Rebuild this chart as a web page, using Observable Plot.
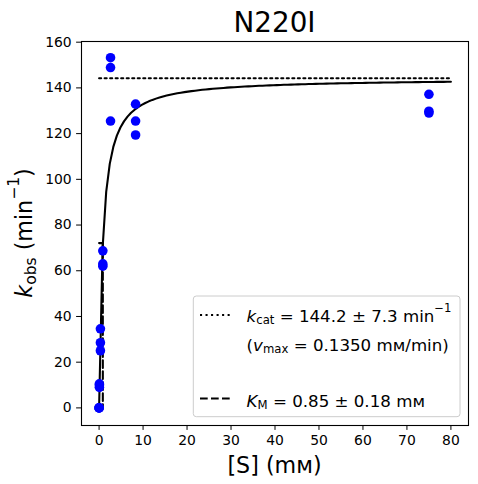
<!DOCTYPE html>
<html><head><meta charset="utf-8">
<script src="https://cdn.jsdelivr.net/npm/d3@7"></script>
<script src="https://cdn.jsdelivr.net/npm/@observablehq/plot@0.6"></script>
<style>body{margin:0;background:#fff} svg{display:block}</style>
</head><body><div id="chart"></div>
<script>
// ---- data ----
const title = "N220I";
const concS = [0, 0, 0, 0.07, 0.07, 0.07, 0.3, 0.3, 0.3, 0.85, 0.85, 0.85, 2.6, 2.6, 2.6, 8.3, 8.3, 8.3, 75, 75, 75];
const kObs  = [0, 0, 0, 9, 10, 10.5, 25, 28.5, 34.6, 62, 63, 68.7, 125.5, 148.9, 153.2, 119.4, 125.5, 132.9, 129, 129.8, 137.2];
const kcat = 144.2, kcatErr = 7.3, vmax = 0.1350, KM = 0.85, KMErr = 0.18;
const sMax = 80;
const xTicks = [0, 10, 20, 30, 40, 50, 60, 70, 80];
const yTicks = [0, 20, 40, 60, 80, 100, 120, 140, 160];

const points = concS.map((s, i) => ({s, k: kObs[i]}));
// Michaelis–Menten fit curve from the fitted parameters
const fitS = d3.range(100).map(i => i * sMax / 99);
const fit = fitS.map(s => ({s, k: kcat * s / (KM + s)}));
const kcatLine = [{s: 0, k: kcat}, {s: sMax, k: kcat}];
const kmLine = [{s: 0, k: kcat / 2}, {s: KM, k: kcat / 2}, {s: KM, k: 0}];

const W = 478, H = 484;
const chart = Plot.plot({
  width: W, height: H,
  marginLeft: 81, marginRight: 10, marginTop: 41, marginBottom: 59,
  style: {fontFamily: "DejaVu Sans", fontSize: "13.9px", color: "black", background: "white"},
  x: {domain: [-4, 84], ticks: xTicks, tickSize: 4.9, tickPadding: 4.5, label: null},
  y: {domain: [-7.7, 160.3], ticks: yTicks, tickSize: 4.9, tickPadding: 4.9, label: null},
  marks: [
    Plot.line(kcatLine, {x: "s", y: "k", stroke: "black", strokeWidth: 2.08, strokeDasharray: "2.08 3.44"}),
    Plot.line(kmLine, {x: "s", y: "k", stroke: "black", strokeWidth: 2.08, strokeDasharray: "7.7 3.3"}),
    Plot.line(fit, {x: "s", y: "k", stroke: "black", strokeWidth: 2.08}),
    Plot.dot(points, {x: "s", y: "k", r: 4.8, fill: "#0000ff", stroke: "none"}),
    Plot.frame({stroke: "black", strokeWidth: 1.1})
  ]
});
document.getElementById("chart").appendChild(chart);

const svg = d3.select(chart);
svg.selectAll("g[aria-label='x-axis tick label'] text, g[aria-label='y-axis tick label'] text").attr("fill", "black");

function richText(parent, x, y, parts, size, anchor, transform) {
  const t = parent.append("text").attr("x", x).attr("y", y)
    .attr("font-family", "DejaVu Sans").attr("font-size", size)
    .attr("fill", "black").attr("text-anchor", anchor || "start");
  if (transform) t.attr("transform", transform);
  let pending = 0;
  parts.forEach(p => {
    const ts = t.append("tspan").text(p.t);
    let dy = pending; pending = 0;
    if (p.it) ts.attr("font-style", "italic");
    if (p.sub) { ts.attr("font-size", size * 0.7); dy += size * 0.16; pending = -size * 0.16; }
    if (p.sup) { ts.attr("font-size", size * 0.7); dy -= size * 0.58; pending = size * 0.58; }
    if (dy) ts.attr("dy", dy);
  });
  return t;
}

const cx = (81 + 468) / 2;
// title
svg.append("text").attr("x", cx).attr("y", 32).attr("text-anchor", "middle")
  .attr("font-family", "DejaVu Sans").attr("font-size", 27.8).attr("fill", "black").text(title);
// x label
richText(svg, cx, 473, [{t: "[S] (m\u1D0D)"}], 22.2, "middle");
// y label
richText(svg, 0, 0, [{t: "k", it: true}, {t: "obs", sub: true}, {t: " (min"}, {t: "\u22121", sup: true}, {t: ")"}], 22.2, "middle",
  `translate(32,233) rotate(-90)`);

// legend
const lg = svg.append("g");
const fs = 16.67;
lg.append("rect").attr("x", 193.3).attr("y", 296).attr("width", 266.7).attr("height", 120.7)
  .attr("rx", 3).attr("fill", "white").attr("fill-opacity", 0.8).attr("stroke", "#cccccc").attr("stroke-width", 1);
lg.append("line").attr("x1", 200).attr("x2", 233).attr("y1", 315).attr("y2", 315)
  .attr("stroke", "black").attr("stroke-width", 2.08).attr("stroke-dasharray", "2.08 3.44");
lg.append("line").attr("x1", 200).attr("x2", 233).attr("y1", 398.5).attr("y2", 398.5)
  .attr("stroke", "black").attr("stroke-width", 2.08).attr("stroke-dasharray", "7.7 3.3");
richText(lg, 246.6, 321.7, [{t: "k", it: true}, {t: "cat", sub: true}, {t: ` = ${kcat.toFixed(1)} \u00B1 ${kcatErr.toFixed(1)} min`}, {t: "\u22121", sup: true}], fs);
richText(lg, 246.6, 350.5, [{t: "("}, {t: "v", it: true}, {t: "max", sub: true}, {t: ` = ${vmax.toFixed(4)} m\u1D0D/min)`}], fs);
richText(lg, 246.6, 406.5, [{t: "K", it: true}, {t: "M", sub: true}, {t: ` = ${KM.toFixed(2)} \u00B1 ${KMErr.toFixed(2)} m\u1D0D`}], fs);
</script>
</body></html>
